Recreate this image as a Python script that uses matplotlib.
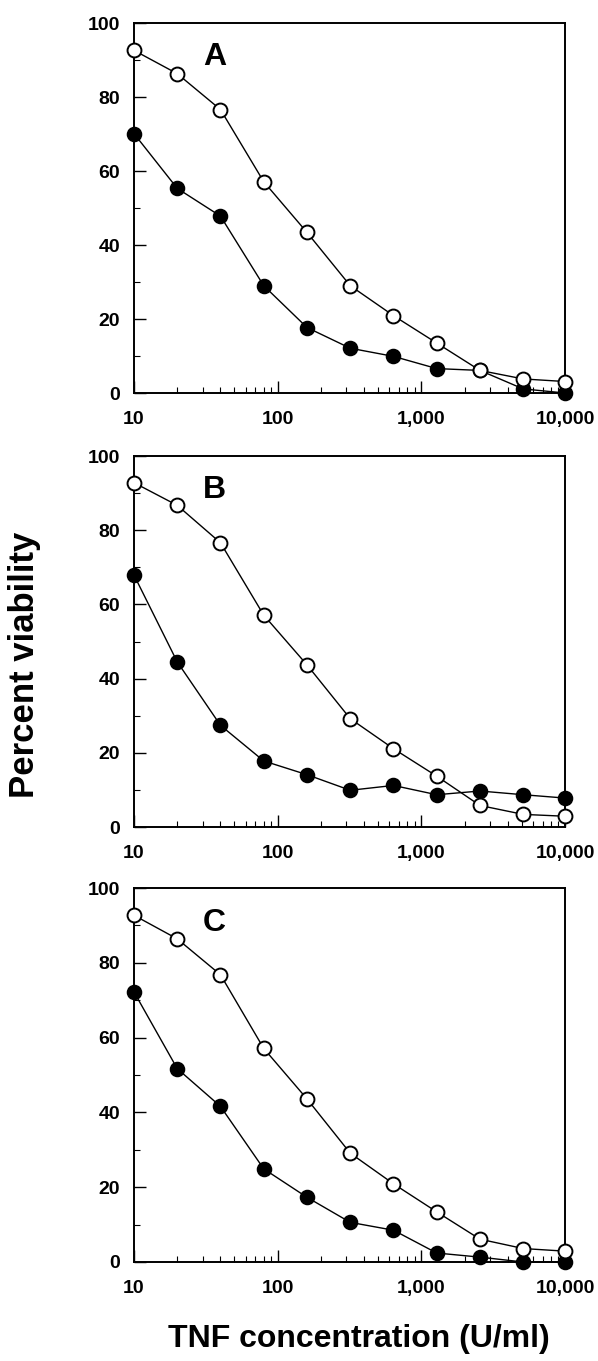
import matplotlib
matplotlib.use("Agg")
import matplotlib.pyplot as plt
from matplotlib.ticker import FixedLocator, NullFormatter, FixedFormatter

plt.rcParams['font.family'] = ['Liberation Sans', 'DejaVu Sans']
plt.rcParams['font.weight'] = 'bold'

conc = [10, 20, 40, 80, 160, 320, 640, 1280, 2560, 5120, 10000]

open_A = [92.6, 86.3, 76.6, 57.1, 43.4, 29.0, 20.9, 13.5, 6.1, 3.8, 3.1]
filled_A = [70.1, 55.3, 47.8, 29.0, 17.7, 12.1, 9.9, 6.6, 6.1, 1.1, 0.0]

open_B = [92.8, 86.7, 76.6, 57.1, 43.7, 29.2, 21.1, 13.7, 5.8, 3.4, 2.9]
filled_B = [67.9, 44.5, 27.4, 17.8, 14.1, 9.9, 11.2, 8.7, 9.7, 8.7, 7.8]

open_C = [92.7, 86.4, 76.8, 57.1, 43.6, 29.1, 20.9, 13.4, 6.1, 3.6, 2.9]
filled_C = [72.2, 51.7, 41.6, 24.9, 17.3, 10.6, 8.5, 2.4, 1.3, 0.0, 0.0]

panel_labels = ['A', 'B', 'C']
x_ticks = [10, 100, 1000, 10000]
x_ticklabels = ['10', '100', '1,000', '10,000']
y_ticks = [0, 20, 40, 60, 80, 100]
y_minor = [10, 30, 50, 70, 90]

W, H = 598, 1361
fig = plt.figure(figsize=(W / 100, H / 100), dpi=100)

panels = [(23, 393), (456, 827), (888, 1262)]
left, right = 134, 565
data = [(open_A, filled_A), (open_B, filled_B), (open_C, filled_C)]

for (top, bot), (op, fi), lab in zip(panels, data, panel_labels):
    ax = fig.add_axes([left / W, 1 - bot / H, (right - left) / W, (bot - top) / H])
    ax.set_xscale('log')
    ax.set_xlim(10, 10000)
    ax.set_ylim(0, 100)
    ax.plot(conc, fi, '-o', color='black', lw=1.0, markersize=10,
            markerfacecolor='black', markeredgecolor='black', mew=1.2,
            clip_on=False, zorder=3)
    ax.plot(conc, op, '-o', color='black', lw=1.0, markersize=10,
            markerfacecolor='white', markeredgecolor='black', mew=1.4,
            clip_on=False, zorder=4)
    ax.xaxis.set_major_locator(FixedLocator(x_ticks))
    ax.xaxis.set_major_formatter(FixedFormatter(x_ticklabels))
    ax.xaxis.set_minor_formatter(NullFormatter())
    ax.yaxis.set_major_locator(FixedLocator(y_ticks))
    ax.yaxis.set_minor_locator(FixedLocator(y_minor))
    ax.tick_params(which='major', direction='in', length=8.5, width=1.0,
                   labelsize=14)
    ax.tick_params(which='minor', direction='in', length=4.5, width=0.8)
    ax.tick_params(axis='x', which='major', pad=13)
    ax.tick_params(axis='y', which='major', pad=10)
    for t in ax.get_xticklabels() + ax.get_yticklabels():
        t.set_fontweight('bold')
    for s in ax.spines.values():
        s.set_linewidth(1.4)
    ax.text(0.187, 0.886, lab, transform=ax.transAxes, fontsize=23,
            fontweight='bold', ha='center', va='baseline')

fig.text(25 / W, 1 - 665 / H, 'Percent viability', rotation=90,
         fontsize=25, fontweight='bold', ha='center', va='center')
fig.text(359 / W, 1 - 1347 / H, 'TNF concentration (U/ml)',
         fontsize=23, fontweight='bold', ha='center', va='baseline')

fig.savefig('out.png', dpi=100)
